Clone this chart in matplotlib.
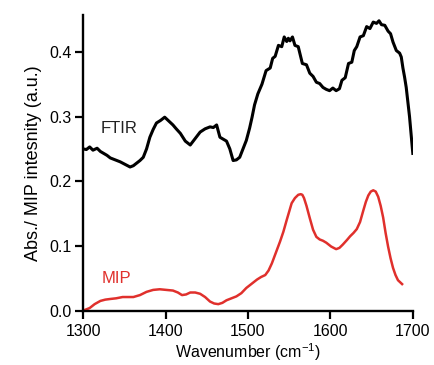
import numpy as np
import matplotlib.pyplot as plt

plt.rcParams['font.family'] = ['Liberation Sans', 'DejaVu Sans']
plt.rcParams['mathtext.fontset'] = 'custom'
plt.rcParams['mathtext.rm'] = 'Liberation Sans'

# FTIR absorbance (black)
ftir_x = [1300, 1304, 1308, 1312, 1317, 1321, 1325, 1329, 1333, 1339, 1345, 1351,
          1357, 1361, 1365, 1369, 1373, 1377, 1381, 1385, 1389, 1394, 1399, 1404,
          1409, 1413, 1418, 1424, 1430, 1436, 1442, 1448, 1454, 1458, 1462, 1466,
          1470, 1474, 1478, 1482, 1486, 1490, 1494, 1498, 1502, 1505, 1508, 1512,
          1517, 1522, 1527, 1530, 1533, 1537, 1541, 1544, 1547, 1549, 1551, 1554,
          1557, 1561, 1566, 1571, 1575, 1579, 1583, 1587, 1591, 1595, 1599, 1603,
          1607, 1611, 1614, 1618, 1622, 1626, 1629, 1632, 1636, 1640, 1644, 1648,
          1652, 1656, 1659, 1662, 1666, 1670, 1673, 1676, 1680, 1684, 1686, 1688,
          1690, 1692, 1696, 1700]
ftir_y = [0.250, 0.249, 0.253, 0.248, 0.251, 0.246, 0.243, 0.240, 0.236, 0.233, 0.230, 0.226,
          0.222, 0.224, 0.228, 0.232, 0.237, 0.250, 0.268, 0.280, 0.290, 0.294, 0.299, 0.293,
          0.287, 0.281, 0.274, 0.262, 0.256, 0.266, 0.276, 0.281, 0.284, 0.283, 0.287, 0.268,
          0.265, 0.262, 0.250, 0.232, 0.233, 0.237, 0.250, 0.263, 0.282, 0.299, 0.318, 0.335,
          0.350, 0.371, 0.375, 0.390, 0.393, 0.410, 0.408, 0.423, 0.416, 0.421, 0.417, 0.423,
          0.410, 0.408, 0.382, 0.380, 0.367, 0.362, 0.353, 0.351, 0.345, 0.342, 0.340, 0.344,
          0.340, 0.343, 0.356, 0.360, 0.382, 0.384, 0.402, 0.408, 0.423, 0.425, 0.439, 0.436,
          0.446, 0.444, 0.448, 0.442, 0.441, 0.432, 0.428, 0.415, 0.402, 0.398, 0.392, 0.375,
          0.361, 0.345, 0.300, 0.243]

# MIP intensity (red)
mip_x = [1300, 1308, 1314, 1321, 1327, 1333, 1340, 1348, 1355, 1361, 1369, 1377, 1385,
         1393, 1401, 1409, 1415, 1420, 1425, 1430, 1436, 1442, 1448, 1454, 1459, 1464,
         1469, 1474, 1480, 1486, 1492, 1498, 1504, 1511, 1516, 1521, 1525, 1529, 1534,
         1539, 1543, 1547, 1550, 1553, 1557, 1561, 1564, 1566, 1568, 1571, 1575, 1579,
         1583, 1587, 1591, 1595, 1601, 1607, 1611, 1615, 1620, 1624, 1628, 1632, 1636,
         1640, 1643, 1646, 1649, 1652, 1655, 1658, 1661, 1664, 1667, 1670, 1673, 1676,
         1679, 1682, 1687]
mip_y = [0.000, 0.004, 0.010, 0.015, 0.017, 0.018, 0.019, 0.021, 0.021, 0.021, 0.024, 0.029, 0.032,
         0.033, 0.032, 0.031, 0.028, 0.024, 0.025, 0.028, 0.028, 0.026, 0.021, 0.014, 0.011, 0.010,
         0.012, 0.016, 0.019, 0.022, 0.027, 0.035, 0.041, 0.048, 0.052, 0.055, 0.062, 0.073, 0.090,
         0.107, 0.122, 0.140, 0.153, 0.166, 0.174, 0.179, 0.180, 0.179, 0.174, 0.162, 0.143, 0.125,
         0.114, 0.110, 0.108, 0.105, 0.099, 0.095, 0.097, 0.102, 0.109, 0.115, 0.120, 0.126, 0.137,
         0.155, 0.168, 0.178, 0.184, 0.186, 0.184, 0.176, 0.162, 0.144, 0.120, 0.099, 0.081, 0.066,
         0.055, 0.047, 0.041]

x_ticks = [1300, 1400, 1500, 1600, 1700]
y_ticks = [0.0, 0.1, 0.2, 0.3, 0.4]

fig = plt.figure(figsize=(4.35, 3.65), dpi=100)
ax = fig.add_axes([0.191, 0.149, 0.758, 0.81])

ax.plot(ftir_x, ftir_y, color='black', linewidth=2.2, solid_joinstyle='round')
ax.plot(mip_x, mip_y, color='#e0302c', linewidth=1.8)

ax.text(1321, 0.282, 'FTIR', fontsize=12, color='#222222', va='center', ha='left')
ax.text(1323, 0.050, 'MIP', fontsize=12, color='#e0302c', va='center', ha='left')

ax.set_xlim(1300, 1700)
ax.set_ylim(0, 0.457)
ax.set_xticks(x_ticks)
ax.set_yticks(y_ticks)
ax.set_yticklabels(['%.1f' % v for v in y_ticks])
ax.set_xlabel('Wavenumber (cm$^{-1}$)', fontsize=11.5, labelpad=2)
ax.set_ylabel('Abs./ MIP intesnity (a.u.)', fontsize=13, labelpad=5)

ax.spines['top'].set_visible(False)
ax.spines['right'].set_visible(False)
for s in ('left', 'bottom'):
    ax.spines[s].set_linewidth(1.7)
ax.tick_params(direction='out', length=5.5, width=1.6, labelsize=11.5)
ax.tick_params(axis='x', pad=4)
ax.tick_params(axis='y', pad=3)

fig.savefig('out.png', dpi=100)
